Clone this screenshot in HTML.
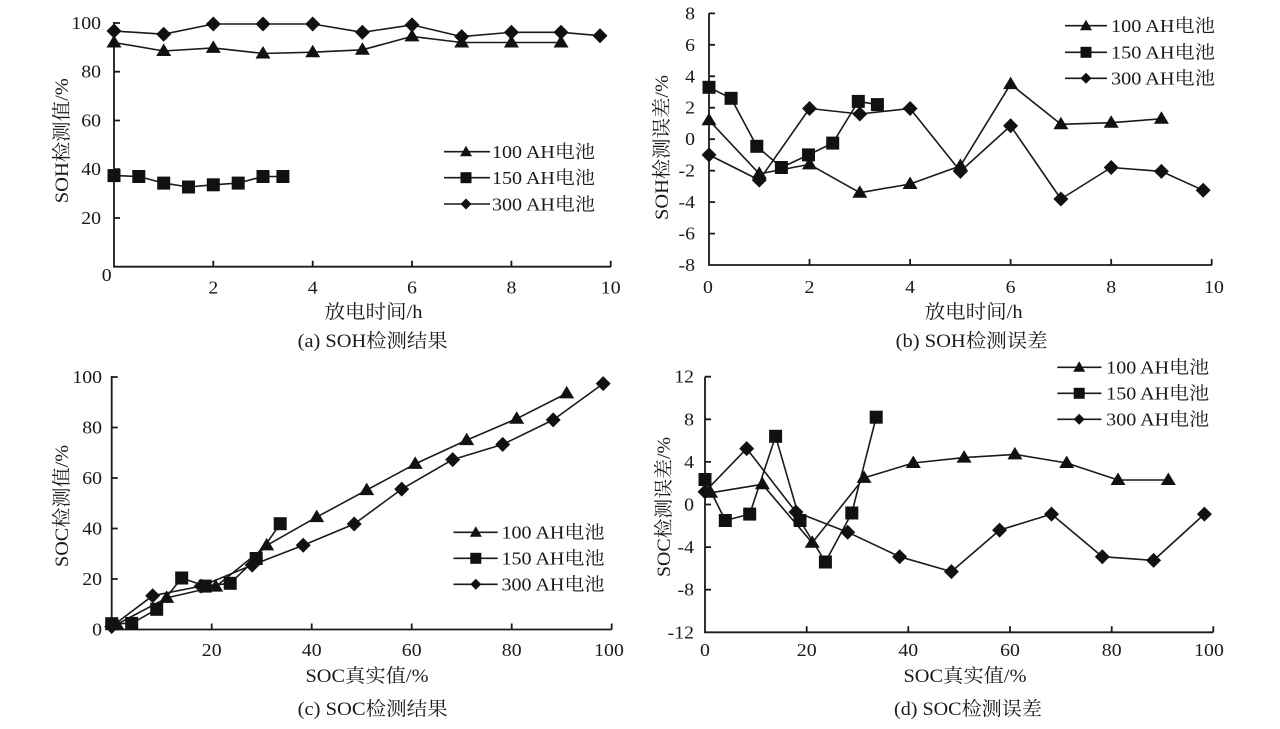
<!DOCTYPE html>
<html>
<head>
<meta charset="utf-8">
<style>
html,body{margin:0;padding:0;background:#fff;}
svg{display:block;}
text{font-family:"Liberation Serif","Noto Serif CJK SC",serif;fill:#1a1a1a;}
.tk{font-size:18px;}
.tt{font-size:19px;}
.ln{fill:none;stroke:#1a1a1a;stroke-width:1.6;stroke-linejoin:round;}
.ax{fill:none;stroke:#1a1a1a;stroke-width:1.8;}
.mk{fill:#111;}
</style>
</head>
<body>
<svg width="1280" height="729" viewBox="0 0 1280 729" xmlns="http://www.w3.org/2000/svg">
<defs>
<polygon id="T" points="0,-7.5 7.5,5 -7.5,5"/>
<rect id="S" x="-6.5" y="-6.5" width="13" height="13"/>
<polygon id="D" points="0,-7.5 7.5,0 0,7.5 -7.5,0"/>
<polygon id="t" points="0,-6 6,4.5 -6,4.5"/>
<rect id="s" x="-5.5" y="-5.5" width="11" height="11"/>
<polygon id="d" points="0,-5.5 5.5,0 0,5.5 -5.5,0"/>
</defs>
<rect width="1280" height="729" fill="#fff"/>

<!-- ================= Panel (a) ================= -->
<g>
<path class="ax" d="M114,22 V266.7 H611 M114,23 h6 M114,71.7 h6 M114,120.5 h6 M114,169.2 h6 M114,218 h6 M213.3,266.7 v-6 M312.7,266.7 v-6 M412,266.7 v-6 M511.4,266.7 v-6 M610.7,266.7 v-6"/>
<text class="tk" text-anchor="end" transform="translate(101,29) scale(1.1,1)">100</text>
<text class="tk" text-anchor="end" transform="translate(101,77.7) scale(1.1,1)">80</text>
<text class="tk" text-anchor="end" transform="translate(101,126.5) scale(1.1,1)">60</text>
<text class="tk" text-anchor="end" transform="translate(101,175.2) scale(1.1,1)">40</text>
<text class="tk" text-anchor="end" transform="translate(101,224) scale(1.1,1)">20</text>
<text class="tk" text-anchor="middle" transform="translate(106.7,281) scale(1.1,1)">0</text>
<text class="tk" text-anchor="middle" transform="translate(213.3,293.5) scale(1.1,1)">2</text>
<text class="tk" text-anchor="middle" transform="translate(312.7,293.5) scale(1.1,1)">4</text>
<text class="tk" text-anchor="middle" transform="translate(412,293.5) scale(1.1,1)">6</text>
<text class="tk" text-anchor="middle" transform="translate(511.4,293.5) scale(1.1,1)">8</text>
<text class="tk" text-anchor="middle" transform="translate(610.7,293.5) scale(1.1,1)">10</text>
<text class="tt" text-anchor="middle" x="373.5" y="318" textLength="98" lengthAdjust="spacingAndGlyphs">放电时间/h</text>
<text class="tt" text-anchor="middle" x="372.7" y="347" textLength="150" lengthAdjust="spacingAndGlyphs">(a) SOH检测结果</text>
<text class="tt" text-anchor="middle" transform="translate(68,140.7) rotate(-90)" textLength="125" lengthAdjust="spacingAndGlyphs">SOH检测值/%</text>

<polyline class="ln" points="114,42.5 163.7,51 213.3,47.9 263,53.5 312.7,52.2 362.4,49.8 412,36.4 461.7,42.5 511.4,42.5 561,42.5"/>
<polyline class="ln" points="114,175.6 138.8,176.5 163.7,183.1 188.5,187 213.3,184.8 238.2,183.1 263,176.5 282.9,176.5"/>
<polyline class="ln" points="114,31 163.7,34.2 213.3,24 263,24 312.7,24 362.4,32.3 412,24.9 461.7,36.6 511.4,32.3 561,32.3 600,35.7"/>
<g class="mk">
<use href="#T" x="114" y="42.5"/><use href="#T" x="163.7" y="51"/><use href="#T" x="213.3" y="47.9"/><use href="#T" x="263" y="53.5"/><use href="#T" x="312.7" y="52.2"/><use href="#T" x="362.4" y="49.8"/><use href="#T" x="412" y="36.4"/><use href="#T" x="461.7" y="42.5"/><use href="#T" x="511.4" y="42.5"/><use href="#T" x="561" y="42.5"/>
<use href="#S" x="114" y="175.6"/><use href="#S" x="138.8" y="176.5"/><use href="#S" x="163.7" y="183.1"/><use href="#S" x="188.5" y="187"/><use href="#S" x="213.3" y="184.8"/><use href="#S" x="238.2" y="183.1"/><use href="#S" x="263" y="176.5"/><use href="#S" x="282.9" y="176.5"/>
<use href="#D" x="114" y="31"/><use href="#D" x="163.7" y="34.2"/><use href="#D" x="213.3" y="24"/><use href="#D" x="263" y="24"/><use href="#D" x="312.7" y="24"/><use href="#D" x="362.4" y="32.3"/><use href="#D" x="412" y="24.9"/><use href="#D" x="461.7" y="36.6"/><use href="#D" x="511.4" y="32.3"/><use href="#D" x="561" y="32.3"/><use href="#D" x="600" y="35.7"/>
</g>
<!-- legend a -->
<path class="ln" d="M444,151.7 H490 M444,177.7 H490 M444,204 H490"/>
<g class="mk"><use href="#t" x="466" y="151.7"/><use href="#s" x="466" y="177.7"/><use href="#d" x="466" y="204"/></g>
<text class="tk" x="492" y="158" textLength="103" lengthAdjust="spacingAndGlyphs">100 AH电池</text>
<text class="tk" x="492" y="184" textLength="103" lengthAdjust="spacingAndGlyphs">150 AH电池</text>
<text class="tk" x="492" y="210.3" textLength="103" lengthAdjust="spacingAndGlyphs">300 AH电池</text>
</g>

<!-- ================= Panel (b) ================= -->
<g>
<path class="ax" d="M709,13.3 V265 H1212 M709,13.4 h6 M709,44.8 h6 M709,76.3 h6 M709,107.7 h6 M709,139.2 h6 M709,170.7 h6 M709,202.1 h6 M709,233.6 h6 M809.5,265 v-6 M910.1,265 v-6 M1010.6,265 v-6 M1111.2,265 v-6 M1211.7,265 v-6"/>
<text class="tk" text-anchor="end" transform="translate(695,19.4) scale(1.1,1)">8</text>
<text class="tk" text-anchor="end" transform="translate(695,50.8) scale(1.1,1)">6</text>
<text class="tk" text-anchor="end" transform="translate(695,82.3) scale(1.1,1)">4</text>
<text class="tk" text-anchor="end" transform="translate(695,113.7) scale(1.1,1)">2</text>
<text class="tk" text-anchor="end" transform="translate(695,145.2) scale(1.1,1)">0</text>
<text class="tk" text-anchor="end" transform="translate(695,176.7) scale(1.1,1)">-2</text>
<text class="tk" text-anchor="end" transform="translate(695,208.1) scale(1.1,1)">-4</text>
<text class="tk" text-anchor="end" transform="translate(695,239.6) scale(1.1,1)">-6</text>
<text class="tk" text-anchor="end" transform="translate(695,271) scale(1.1,1)">-8</text>
<text class="tk" text-anchor="middle" transform="translate(708,293) scale(1.1,1)">0</text>
<text class="tk" text-anchor="middle" transform="translate(809.5,293) scale(1.1,1)">2</text>
<text class="tk" text-anchor="middle" transform="translate(910.1,293) scale(1.1,1)">4</text>
<text class="tk" text-anchor="middle" transform="translate(1010.6,293) scale(1.1,1)">6</text>
<text class="tk" text-anchor="middle" transform="translate(1111.2,293) scale(1.1,1)">8</text>
<text class="tk" text-anchor="middle" transform="translate(1214,293) scale(1.1,1)">10</text>
<text class="tt" text-anchor="middle" x="973.6" y="318" textLength="98" lengthAdjust="spacingAndGlyphs">放电时间/h</text>
<text class="tt" text-anchor="middle" x="971.7" y="347" textLength="152" lengthAdjust="spacingAndGlyphs">(b) SOH检测误差</text>
<text class="tt" text-anchor="middle" transform="translate(668,147.5) rotate(-90)" textLength="145" lengthAdjust="spacingAndGlyphs">SOH检测误差/%</text>

<polyline class="ln" points="709,120.3 759.3,173.8 809.5,164.4 859.8,192.7 910.1,184 960.4,165.9 1010.6,84.1 1060.9,124.3 1111.2,122.7 1161.4,118.8"/>
<polyline class="ln" points="709,87.3 731.1,98.3 756.8,146.3 781.4,167.5 808.5,154.9 832.7,143.1 858.3,101.4 877.4,104.6"/>
<polyline class="ln" points="709,154.9 759.3,180.1 809.5,108.5 859.8,114 910.1,108.5 960.4,171.4 1010.6,125.8 1060.9,199 1111.2,167.5 1161.4,171.4 1203.2,190.3"/>
<g class="mk">
<use href="#T" x="709" y="120.3"/><use href="#T" x="759.3" y="173.8"/><use href="#T" x="809.5" y="164.4"/><use href="#T" x="859.8" y="192.7"/><use href="#T" x="910.1" y="184"/><use href="#T" x="960.4" y="165.9"/><use href="#T" x="1010.6" y="84.1"/><use href="#T" x="1060.9" y="124.3"/><use href="#T" x="1111.2" y="122.7"/><use href="#T" x="1161.4" y="118.8"/>
<use href="#S" x="709" y="87.3"/><use href="#S" x="731.1" y="98.3"/><use href="#S" x="756.8" y="146.3"/><use href="#S" x="781.4" y="167.5"/><use href="#S" x="808.5" y="154.9"/><use href="#S" x="832.7" y="143.1"/><use href="#S" x="858.3" y="101.4"/><use href="#S" x="877.4" y="104.6"/>
<use href="#D" x="709" y="154.9"/><use href="#D" x="759.3" y="180.1"/><use href="#D" x="809.5" y="108.5"/><use href="#D" x="859.8" y="114"/><use href="#D" x="910.1" y="108.5"/><use href="#D" x="960.4" y="171.4"/><use href="#D" x="1010.6" y="125.8"/><use href="#D" x="1060.9" y="199"/><use href="#D" x="1111.2" y="167.5"/><use href="#D" x="1161.4" y="171.4"/><use href="#D" x="1203.2" y="190.3"/>
</g>
<path class="ln" d="M1065,25.7 H1107 M1065,52.3 H1107 M1065,78.3 H1107"/>
<g class="mk"><use href="#t" x="1086" y="25.7"/><use href="#s" x="1086" y="52.3"/><use href="#d" x="1086" y="78.3"/></g>
<text class="tk" x="1111" y="32" textLength="104" lengthAdjust="spacingAndGlyphs">100 AH电池</text>
<text class="tk" x="1111" y="58.6" textLength="104" lengthAdjust="spacingAndGlyphs">150 AH电池</text>
<text class="tk" x="1111" y="84.6" textLength="104" lengthAdjust="spacingAndGlyphs">300 AH电池</text>
</g>

<!-- ================= Panel (c) ================= -->
<g>
<path class="ax" d="M111.7,376 V629.5 H611.7 M111.7,377 h6 M111.7,427.5 h6 M111.7,478 h6 M111.7,528.5 h6 M111.7,579 h6 M211.7,629.5 v-6 M311.7,629.5 v-6 M411.7,629.5 v-6 M511.7,629.5 v-6 M611.7,629.5 v-6"/>
<text class="tk" text-anchor="end" transform="translate(102,383) scale(1.1,1)">100</text>
<text class="tk" text-anchor="end" transform="translate(102,433.5) scale(1.1,1)">80</text>
<text class="tk" text-anchor="end" transform="translate(102,484) scale(1.1,1)">60</text>
<text class="tk" text-anchor="end" transform="translate(102,534.5) scale(1.1,1)">40</text>
<text class="tk" text-anchor="end" transform="translate(102,585) scale(1.1,1)">20</text>
<text class="tk" text-anchor="end" transform="translate(102,635.5) scale(1.1,1)">0</text>
<text class="tk" text-anchor="middle" transform="translate(211.7,656) scale(1.1,1)">20</text>
<text class="tk" text-anchor="middle" transform="translate(311.7,656) scale(1.1,1)">40</text>
<text class="tk" text-anchor="middle" transform="translate(411.7,656) scale(1.1,1)">60</text>
<text class="tk" text-anchor="middle" transform="translate(511.7,656) scale(1.1,1)">80</text>
<text class="tk" text-anchor="middle" transform="translate(609,656) scale(1.1,1)">100</text>
<text class="tt" text-anchor="middle" x="367" y="682" textLength="123" lengthAdjust="spacingAndGlyphs">SOC真实值/%</text>
<text class="tt" text-anchor="middle" x="372.7" y="715" textLength="150" lengthAdjust="spacingAndGlyphs">(c) SOC检测结果</text>
<text class="tt" text-anchor="middle" transform="translate(68,506) rotate(-90)" textLength="122" lengthAdjust="spacingAndGlyphs">SOC检测值/%</text>

<polyline class="ln" points="116.7,624.4 166.7,597.9 215.7,586.6 266.7,545.4 316.7,517.1 366.7,490.1 415.2,463.9 466.7,440.1 516.7,418.7 566.7,393.4"/>
<polyline class="ln" points="111.7,623.7 131.7,623.4 156.7,609.3 181.7,578 205.2,586.1 230.2,583.3 256.2,558.5 280.2,523.7"/>
<polyline class="ln" points="111.7,626.5 152.7,595.7 201.2,586.1 252.2,565.1 303.2,545.2 354.2,524 401.7,489.1 452.7,459.6 502.7,444.4 553.2,419.9 603.2,383.6"/>
<g class="mk">
<use href="#T" x="116.7" y="624.4"/><use href="#T" x="166.7" y="597.9"/><use href="#T" x="215.7" y="586.6"/><use href="#T" x="266.7" y="545.4"/><use href="#T" x="316.7" y="517.1"/><use href="#T" x="366.7" y="490.1"/><use href="#T" x="415.2" y="463.9"/><use href="#T" x="466.7" y="440.1"/><use href="#T" x="516.7" y="418.7"/><use href="#T" x="566.7" y="393.4"/>
<use href="#S" x="111.7" y="623.7"/><use href="#S" x="131.7" y="623.4"/><use href="#S" x="156.7" y="609.3"/><use href="#S" x="181.7" y="578"/><use href="#S" x="205.2" y="586.1"/><use href="#S" x="230.2" y="583.3"/><use href="#S" x="256.2" y="558.5"/><use href="#S" x="280.2" y="523.7"/>
<use href="#D" x="111.7" y="626.5"/><use href="#D" x="152.7" y="595.7"/><use href="#D" x="201.2" y="586.1"/><use href="#D" x="252.2" y="565.1"/><use href="#D" x="303.2" y="545.2"/><use href="#D" x="354.2" y="524"/><use href="#D" x="401.7" y="489.1"/><use href="#D" x="452.7" y="459.6"/><use href="#D" x="502.7" y="444.4"/><use href="#D" x="553.2" y="419.9"/><use href="#D" x="603.2" y="383.6"/>
</g>
<path class="ln" d="M453.5,532.3 H497.7 M453.5,558.3 H497.7 M453.5,584.3 H497.7"/>
<g class="mk"><use href="#t" x="475.8" y="532.3"/><use href="#s" x="475.8" y="558.3"/><use href="#d" x="475.8" y="584.3"/></g>
<text class="tk" x="501.5" y="538.6" textLength="103" lengthAdjust="spacingAndGlyphs">100 AH电池</text>
<text class="tk" x="501.5" y="564.6" textLength="103" lengthAdjust="spacingAndGlyphs">150 AH电池</text>
<text class="tk" x="501.5" y="590.6" textLength="103" lengthAdjust="spacingAndGlyphs">300 AH电池</text>
</g>

<!-- ================= Panel (d) ================= -->
<g>
<path class="ax" d="M705,376.7 V632.3 H1213.3 M705,376.7 h6 M705,419.3 h6 M705,461.9 h6 M705,504.5 h6 M705,547.1 h6 M705,589.7 h6 M806.7,632.3 v-6 M908.3,632.3 v-6 M1010,632.3 v-6 M1111.7,632.3 v-6 M1213.3,632.3 v-6"/>
<text class="tk" text-anchor="end" transform="translate(694,382.7) scale(1.1,1)">12</text>
<text class="tk" text-anchor="end" transform="translate(694,425.3) scale(1.1,1)">8</text>
<text class="tk" text-anchor="end" transform="translate(694,467.9) scale(1.1,1)">4</text>
<text class="tk" text-anchor="end" transform="translate(694,510.5) scale(1.1,1)">0</text>
<text class="tk" text-anchor="end" transform="translate(694,553.1) scale(1.1,1)">-4</text>
<text class="tk" text-anchor="end" transform="translate(694,595.7) scale(1.1,1)">-8</text>
<text class="tk" text-anchor="end" transform="translate(694,638.3) scale(1.1,1)">-12</text>
<text class="tk" text-anchor="middle" transform="translate(705,656) scale(1.1,1)">0</text>
<text class="tk" text-anchor="middle" transform="translate(806.7,656) scale(1.1,1)">20</text>
<text class="tk" text-anchor="middle" transform="translate(908.3,656) scale(1.1,1)">40</text>
<text class="tk" text-anchor="middle" transform="translate(1010,656) scale(1.1,1)">60</text>
<text class="tk" text-anchor="middle" transform="translate(1111.7,656) scale(1.1,1)">80</text>
<text class="tk" text-anchor="middle" transform="translate(1209,656) scale(1.1,1)">100</text>
<text class="tt" text-anchor="middle" x="965" y="682" textLength="123" lengthAdjust="spacingAndGlyphs">SOC真实值/%</text>
<text class="tt" text-anchor="middle" x="968" y="715" textLength="148" lengthAdjust="spacingAndGlyphs">(d) SOC检测误差</text>
<text class="tt" text-anchor="middle" transform="translate(670,507) rotate(-90)" textLength="140" lengthAdjust="spacingAndGlyphs">SOC检测误差/%</text>

<polyline class="ln" points="710.6,492.8 762.4,484.3 812.2,542.8 864,477.9 913.3,463 964.1,457.6 1014.9,454.4 1066.7,463 1118,480 1168.3,480"/>
<polyline class="ln" points="705,479.5 725.3,520.5 749.7,514.1 775.6,436.3 800,520.5 825.4,562 851.8,513 876.2,417.2"/>
<polyline class="ln" points="705,491.7 746.7,448.6 795.9,512 847.7,532.2 899.6,556.7 951.4,571.6 999.6,530.1 1051.5,514.1 1102.3,556.7 1153.6,560.4 1204.4,514.1"/>
<g class="mk">
<use href="#T" x="710.6" y="492.8"/><use href="#T" x="762.4" y="484.3"/><use href="#T" x="812.2" y="542.8"/><use href="#T" x="864" y="477.9"/><use href="#T" x="913.3" y="463"/><use href="#T" x="964.1" y="457.6"/><use href="#T" x="1014.9" y="454.4"/><use href="#T" x="1066.7" y="463"/><use href="#T" x="1118" y="480"/><use href="#T" x="1168.3" y="480"/>
<use href="#S" x="705" y="479.5"/><use href="#S" x="725.3" y="520.5"/><use href="#S" x="749.7" y="514.1"/><use href="#S" x="775.6" y="436.3"/><use href="#S" x="800" y="520.5"/><use href="#S" x="825.4" y="562"/><use href="#S" x="851.8" y="513"/><use href="#S" x="876.2" y="417.2"/>
<use href="#D" x="705" y="491.7"/><use href="#D" x="746.7" y="448.6"/><use href="#D" x="795.9" y="512"/><use href="#D" x="847.7" y="532.2"/><use href="#D" x="899.6" y="556.7"/><use href="#D" x="951.4" y="571.6"/><use href="#D" x="999.6" y="530.1"/><use href="#D" x="1051.5" y="514.1"/><use href="#D" x="1102.3" y="556.7"/><use href="#D" x="1153.6" y="560.4"/><use href="#D" x="1204.4" y="514.1"/>
</g>
<path class="ln" d="M1057.3,367.3 H1101.5 M1057.3,393.3 H1101.5 M1057.3,419.3 H1101.5"/>
<g class="mk"><use href="#t" x="1079.2" y="367.3"/><use href="#s" x="1079.2" y="393.3"/><use href="#d" x="1079.2" y="419.3"/></g>
<text class="tk" x="1106.2" y="373.6" textLength="103" lengthAdjust="spacingAndGlyphs">100 AH电池</text>
<text class="tk" x="1106.2" y="399.6" textLength="103" lengthAdjust="spacingAndGlyphs">150 AH电池</text>
<text class="tk" x="1106.2" y="425.6" textLength="103" lengthAdjust="spacingAndGlyphs">300 AH电池</text>
</g>
</svg>
</body>
</html>
